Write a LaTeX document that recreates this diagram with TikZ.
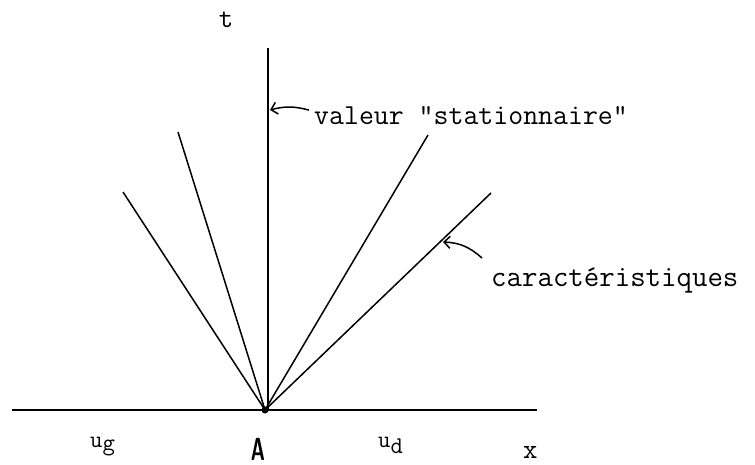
\documentclass[tikz,border=0pt]{standalone}
\usepackage{fontspec}
\usetikzlibrary{arrows.meta}
\begin{document}
\begin{tikzpicture}[x=1pt, y=-1pt, every node/.style={inner sep=0pt, font=\ttfamily},
        ray/.style={line width=1.5pt},
        pointer/.style={-{Straight Barb[length=6pt,width=12pt]}, line width=1.5pt}]
        \useasboundingbox (0,0) rectangle (755,465);
        % Axes
        \coordinate (A) at (265,410);
        \coordinate (xl) at (12,410);
        \coordinate (xr) at (537,410);
        \coordinate (ttop) at (268,48);
        \draw[line width=2.4pt] (xl) -- (xr);
        \draw[line width=1.8pt] (A -| ttop) -- (ttop);
        \fill (A) circle (3.5pt);

        % Characteristics
        \coordinate (r1) at (123,192);
        \coordinate (r2) at (178,132);
        \coordinate (r3) at (428,135);
        \coordinate (r4) at (491,193);
        \foreach \r in {r1, r2, r3, r4}
            \draw[ray] (A) -- (\r);

        % Labels
        \node (t) at (226,20) {\fontsize{28}{28}\selectfont t};
        \node (val) [anchor=base west] at (314,125) {\fontsize{29}{29}\selectfont valeur \textquotedbl stationnaire\textquotedbl};
        \node (car) [anchor=base west] at (491,287) {\fontsize{30}{30}\selectfont caractéristiques};
        \node (ug) [anchor=base west] at (90,447) {\fontsize{24}{24}\selectfont u\raisebox{-3pt}{g}};
        \node (ud) [anchor=base west] at (378,447) {\fontsize{24}{24}\selectfont u\raisebox{-6pt}{d}};
        \node (labA) at (258,449) {\fontsize{32}{32}\selectfont\sffamily\bfseries\scalebox{0.6}[1]{A}};
        \node (x) [anchor=base west] at (523,458) {\fontsize{28}{28}\selectfont x};

        % Pointers
        \coordinate (p1) at (270,110);
        \coordinate (p2) at (443,242);
        \draw[pointer] ([xshift=-5pt,yshift=6pt]val.west) to[bend right=15] (p1);
        \draw[pointer] ([xshift=-9pt,yshift=10pt]car.north west) to[bend right=20] (p2);
\end{tikzpicture}
\end{document}
